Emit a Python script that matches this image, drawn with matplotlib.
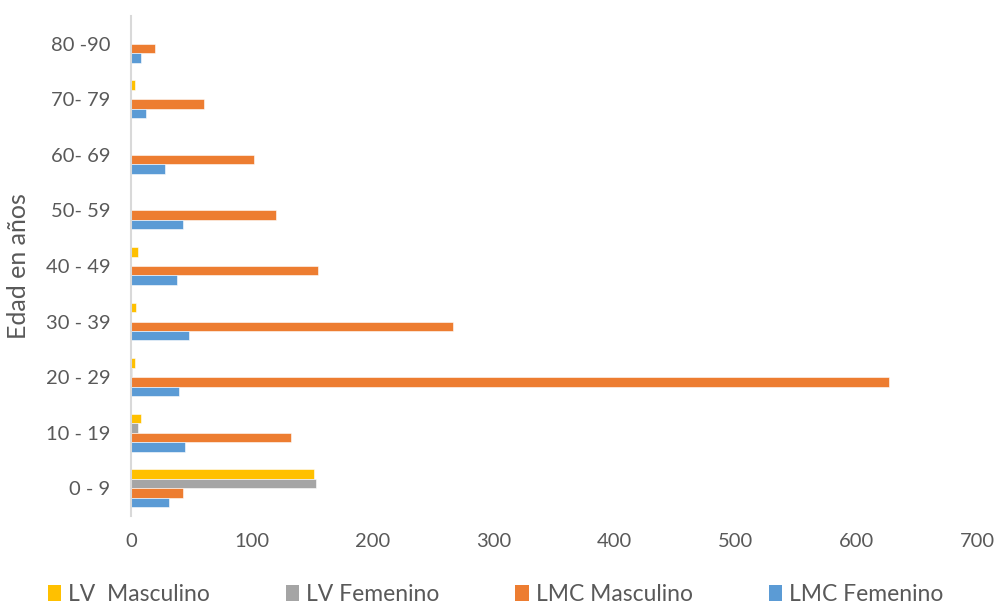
import matplotlib
matplotlib.use("Agg")
import matplotlib.pyplot as plt
import numpy as np
from matplotlib.patches import Patch

categories = ["0 - 9", "10 - 19", "20 - 29", "30 - 39", "40 - 49", "50- 59", "60- 69", "70- 79", "80 -90"]
lv_masculino = [151, 8, 3, 4, 6, 0, 0, 3, 0]
lv_femenino = [153, 6, 1, 0, 0, 0, 0, 0, 0]
lmc_masculino = [43, 132, 627, 266, 155, 120, 102, 60, 20]
lmc_femenino = [31, 45, 40, 48, 38, 43, 28, 12, 8]
series_names = ["LV  Masculino", "LV Femenino", "LMC Masculino", "LMC Femenino"]
xticks = [0, 100, 200, 300, 400, 500, 600, 700]

colors = ["#FFC000", "#A5A5A5", "#ED7D31", "#5B9BD5"]
plt.rcParams['font.family'] = ['Lato', 'DejaVu Sans']
text_color = "#595959"

fig = plt.figure(figsize=(9.95, 6.1), dpi=100)
ax = fig.add_axes([0.1317, 0.154, 0.982 - 0.1317, 0.974 - 0.154])

y = np.arange(len(categories))
h = 0.17
series = [lv_masculino, lv_femenino, lmc_masculino, lmc_femenino]
offsets = [1.5 * h, 0.5 * h, -0.5 * h, -1.5 * h]
for vals, off, c in zip(series, offsets, colors):
    ax.barh(y + off, vals, height=h, color=c, edgecolor='white', linewidth=0.4)

ax.set_xlim(0, 700)
ax.set_ylim(-0.5, len(categories) - 0.5)
ax.set_yticks(y)
ax.set_yticklabels(categories)
ax.set_xticks(xticks)
ax.set_xticklabels([str(t) for t in xticks])
for s in ["top", "right", "bottom"]:
    ax.spines[s].set_visible(False)
ax.spines["left"].set_color("#D9D9D9")
ax.spines["left"].set_linewidth(1.5)
ax.tick_params(axis='both', length=0, labelsize=14.5, colors=text_color)
ax.tick_params(axis='x', pad=12)
ax.tick_params(axis='y', pad=15)
ax.set_ylabel("Edad en años", fontsize=18, color=text_color)
ax.yaxis.set_label_coords(-0.12, 0.5)

handles = [Patch(facecolor=c, edgecolor='none') for c in colors]
fig.legend(handles, series_names, loc='lower center', bbox_to_anchor=(0.498, -0.025), ncol=4,
           frameon=False, fontsize=16.5, labelcolor=text_color, handlelength=0.6, handleheight=0.7,
           handletextpad=0.3, columnspacing=3.3)

fig.savefig("out.png", dpi=100, facecolor='white')
